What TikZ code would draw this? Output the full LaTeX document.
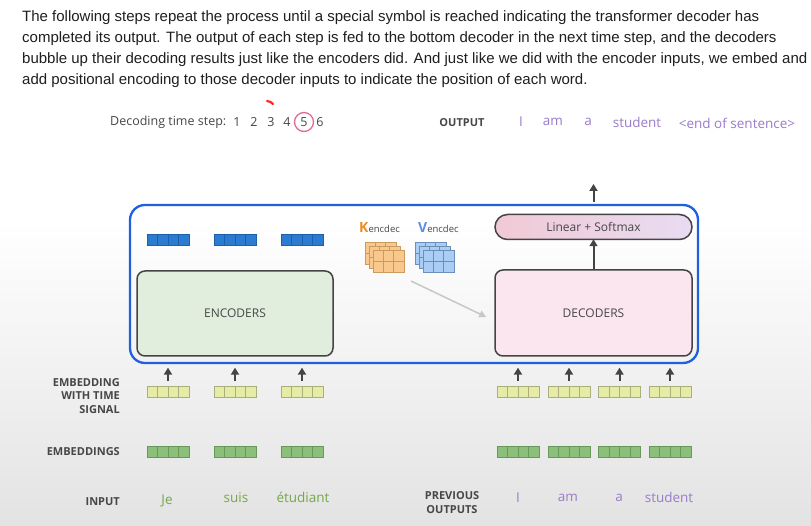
\documentclass[tikz,border=0pt]{standalone}
\usepackage{fontspec}
\setmainfont{Open Sans}
\newfontfamily\arialfont{Liberation Sans}
\usetikzlibrary{arrows.meta,calc}
\definecolor{txtgrey}{HTML}{474747}
\definecolor{darkln}{HTML}{444444}
\definecolor{purp}{HTML}{9A7BCB}
\definecolor{grn}{HTML}{74A84C}
\definecolor{bluebox}{HTML}{1E60E0}
\definecolor{encfill}{HTML}{E1EEDD}
\definecolor{decfill}{HTML}{FBE6EF}
\definecolor{linA}{HTML}{F1C9D5}
\definecolor{linB}{HTML}{E8DCF2}
\definecolor{barblue}{HTML}{2B7BD0}
\definecolor{barblueln}{HTML}{1D5FA8}
\definecolor{baryel}{HTML}{E6EBA6}
\definecolor{baryelln}{HTML}{A9AE7C}
\definecolor{bargrn}{HTML}{8CBF7A}
\definecolor{bargrnln}{HTML}{66985A}
\definecolor{korange}{HTML}{F08A24}
\definecolor{kfill}{HTML}{F8C88C}
\definecolor{kline}{HTML}{CC9A5C}
\definecolor{vblue}{HTML}{5A8EE8}
\definecolor{vfill}{HTML}{A9CDF5}
\definecolor{vline}{HTML}{6C8FB8}
\definecolor{pinkc}{HTML}{E06A98}
\tikzset{
  x=1pt, y=-1pt,
  para/.style={anchor=base west, inner sep=0pt, font=\arialfont\fontsize{15}{17}\selectfont, text=black!88},
  lbl/.style={inner sep=0pt, font=\fontsize{11}{13.5}\selectfont\bfseries, text=txtgrey},
  outw/.style={inner sep=0pt, font=\fontsize{13.5}{15}\selectfont, text=purp},
  inw/.style={inner sep=0pt, font=\fontsize{13.5}{15}\selectfont, text=grn},
  bigbox/.style={draw=darkln, line width=1.5pt, rounded corners=8pt, font=\fontsize{12}{14}\selectfont, text=txtgrey},
  arr/.style={draw=darkln, line width=2pt, -{Triangle[length=7pt,width=8pt]}},
  cellbar/.style={draw=#1, line width=0.7pt, minimum width=42pt, minimum height=11pt, inner sep=0pt,
    path picture={\foreach \k in {1,2,3}{\draw[#1, line width=0.7pt] ($(path picture bounding box.north west)!\k/4!(path picture bounding box.north east)$) -- ($(path picture bounding box.south west)!\k/4!(path picture bounding box.south east)$);}}},
  bluebar/.style={cellbar=barblueln, fill=barblue},
  yelbar/.style={cellbar=baryelln, fill=baryel},
  grnbar/.style={cellbar=bargrnln, fill=bargrn},
}
\begin{document}
\begin{tikzpicture}
\useasboundingbox (0,0) rectangle (811,526);
\fill[white] (0,0) rectangle (811,526);
\shade[top color=white, bottom color=black!11] (0,220) rectangle (811,526);

% paragraph
\node[para] (p1) at (22,22) {The following steps repeat the process until a special symbol is reached indicating the transformer decoder has};
\node[para] (p2) at (22,43) {completed its output. The output of each step is fed to the bottom decoder in the next time step, and the decoders};
\node[para] (p3) at (22,64) {bubble up their decoding results just like the encoders did. And just like we did with the encoder inputs, we embed and};
\node[para] (p4) at (22,85) {add positional encoding to those decoder inputs to indicate the position of each word.};

% decoding time step
\node[anchor=west, inner sep=0pt, font=\fontsize{12.5}{14}\selectfont, text=txtgrey] (dts) at (110,122) {Decoding time step:};
\foreach \n/\xx in {1/237,2/254,3/271,4/287,5/304,6/320}{
  \node[inner sep=0pt, font=\fontsize{12.5}{14}\selectfont, text=txtgrey] (s\n) at (\xx,122) {\n};
}
\draw[pinkc, line width=1.3pt] (s5) circle (9.5pt);
\draw[red!80!pink, line width=2.2pt, line cap=round] (267,101) to[bend left=20] (273,104);

% output
\node[lbl] (outl) at (462,123) {OUTPUT};
\node[outw] (o1) at (521,122) {I};
\node[outw] (o2) at (553,122) {am};
\node[outw] (o3) at (588,122) {a};
\node[outw] (o4) at (637,122) {student};
\node[outw] (o5) at (737,123) {<end of sentence>};

% big blue frame
\node[draw=bluebox, line width=2.3pt, rounded corners=15pt, minimum width=568pt, minimum height=158pt, inner sep=0pt] (frame) at (414,284) {};

% encoders / decoders
\node[bigbox, fill=encfill, minimum width=196pt, minimum height=85pt] (enc) at (235,313.5) {ENCODERS};
\node[bigbox, fill=decfill, minimum width=197pt, minimum height=86pt] (dec) at (593.5,313) {DECODERS};
\node[bigbox, left color=linA, right color=linB, rounded corners=12.5pt, minimum width=197pt, minimum height=25pt] (lin) at (593.5,227) {Linear + Softmax};
\draw[arr] (dec.north) -- ([yshift=1pt]lin.south);
\coordinate (outtop) at (593.5,184);
\draw[arr] ([yshift=12pt]lin.north) -- (outtop);

% encoder outputs
\node[bluebar] (b1) at (168,239.5) {};
\node[bluebar] (b2) at (235,239.5) {};
\node[bluebar] (b3) at (302,239.5) {};

% K and V
\node[anchor=base west, inner sep=0pt] (klab) at (359,233) {{\fontsize{14}{15}\selectfont\bfseries\color{korange}K}{\fontsize{9.5}{10}\selectfont\color{txtgrey}encdec}};
\node[anchor=base west, inner sep=0pt] (vlab) at (418,233) {{\fontsize{14}{15}\selectfont\bfseries\color{vblue}V}{\fontsize{9.5}{10}\selectfont\color{txtgrey}encdec}};
\foreach \d in {0,4,8}{
  \draw[fill=kfill, draw=kline, line width=0.7pt] (365+\d,242+\d) rectangle (396+\d,264+\d);
  \draw[kline, line width=0.7pt] (375.3+\d,242+\d) -- (375.3+\d,264+\d) (385.7+\d,242+\d) -- (385.7+\d,264+\d) (365+\d,253+\d) -- (396+\d,253+\d);
  \draw[fill=vfill, draw=vline, line width=0.7pt] (415+\d,242+\d) rectangle (446+\d,264+\d);
  \draw[vline, line width=0.7pt] (425.3+\d,242+\d) -- (425.3+\d,264+\d) (435.7+\d,242+\d) -- (435.7+\d,264+\d) (415+\d,253+\d) -- (446+\d,253+\d);
}
\coordinate (kvfrom) at (411,281);
\draw[draw=black!22, line width=1.5pt, -{Triangle[length=7pt,width=7pt]}] (kvfrom) -- ([xshift=-8pt,yshift=-4pt]dec.west);

% embeddings with time signal
\foreach \i/\xx in {1/168,2/235,3/302,4/518,5/569,6/619.5,7/670}{
  \node[yelbar] (y\i) at (\xx,392) {};
  \node[grnbar] (g\i) at (\xx,452) {};
  \draw[arr] ([yshift=5pt]y\i.north) -- ([yshift=-3.5pt]y\i.north |- frame.south);
}

% left labels
\node[lbl, align=right, anchor=east] (ewts) at (120,396) {EMBEDDING\\WITH TIME\\SIGNAL};
\node[lbl, anchor=east] (embl) at (120,452) {EMBEDDINGS};
\node[lbl, anchor=east] (inl) at (120,502) {INPUT};
\node[inw] (i1) at (167,501) {Je};
\node[inw] (i2) at (236,497.5) {suis};
\node[inw] (i3) at (303,497.5) {étudiant};

\node[lbl, align=center] (prev) at (452,502.5) {PREVIOUS\\OUTPUTS};
\node[outw] (q1) at (518,497.5) {I};
\node[outw] (q2) at (568,497.5) {am};
\node[outw] (q3) at (619,497.5) {a};
\node[outw] (q4) at (669,497.5) {student};
\end{tikzpicture}
\end{document}
